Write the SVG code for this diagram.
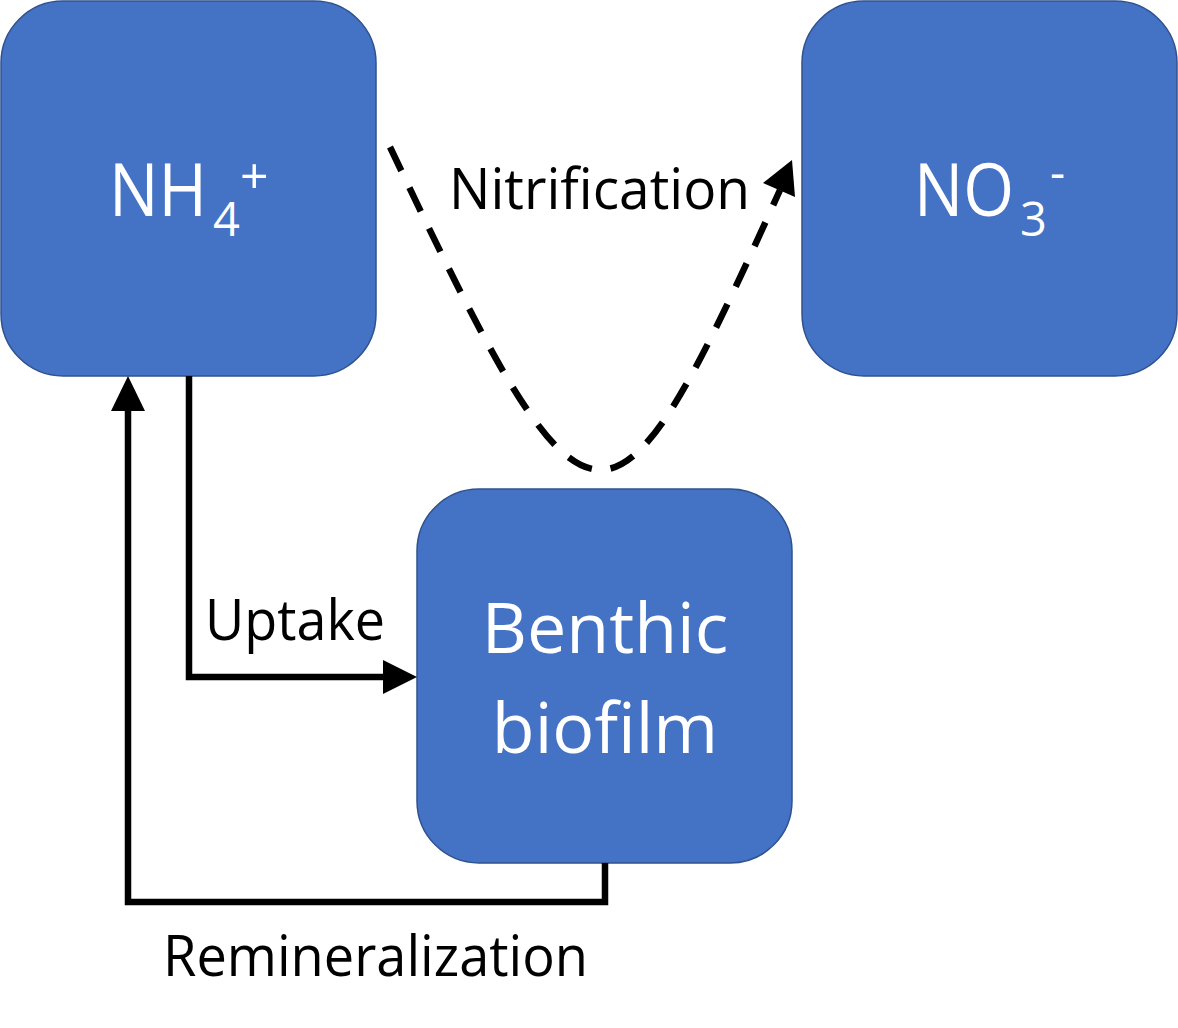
<svg xmlns="http://www.w3.org/2000/svg" width="1178" height="1028" viewBox="0 0 1178 1028">
<style>
.node{fill:#4472C4;stroke:#2F528F;stroke-width:1.5}
.nt{fill:#FFFFFF;font-family:"Open Sans","Noto Sans",sans-serif}
.lbl{fill:#000000;font-family:"Open Sans","Noto Sans",sans-serif;font-size:57px}
.ln{fill:none;stroke:#000000;stroke-width:6.5}
.dash{fill:none;stroke:#000000;stroke-width:6.5;stroke-dasharray:26 19}
.ah{fill:#000000}
</style>
<rect width="1178" height="1028" fill="#FFFFFF"/>
<g id="nh4">
<rect class="node" x="1" y="1" width="375" height="375" rx="62" ry="62"/>
<text class="nt" font-size="74"><tspan x="109" y="216" textLength="98" lengthAdjust="spacingAndGlyphs">NH</tspan><tspan x="213" y="236" font-size="47">4</tspan><tspan x="240" y="194" font-size="50">+</tspan></text>
</g>
<g id="no3">
<rect class="node" x="802" y="1" width="375" height="375" rx="62" ry="62"/>
<text class="nt" font-size="74"><tspan x="914" y="216" textLength="100" lengthAdjust="spacingAndGlyphs">NO</tspan><tspan x="1020" y="236" font-size="47">3</tspan><tspan x="1050" y="189" font-size="47">-</tspan></text>
</g>
<g id="biofilm">
<rect class="node" x="417" y="489" width="375" height="374" rx="62" ry="62"/>
<text class="nt" x="605" y="653" font-size="70" text-anchor="middle">Benthic</text>
<text class="nt" x="605" y="753" font-size="70" text-anchor="middle">biofilm</text>
</g>
<g id="connectors">
<path class="ln" d="M189,376 L189,677 L384,677"/>
<polygon class="ah" points="417,677 383,660 383,694"/>
<path class="ln" d="M605,863 L605,902 L128,902 L128,410"/>
<polygon class="ah" points="128,376 111,411 145,411"/>
<path class="dash" d="M390,147 C591,570 609,570 780,190"/>
<polygon class="ah" points="763,183 792,160 795,197"/>
</g>
<g id="labels">
<text class="lbl" x="449" y="209" textLength="301" lengthAdjust="spacingAndGlyphs">Nitrification</text>
<text class="lbl" x="205" y="640" textLength="180" lengthAdjust="spacingAndGlyphs">Uptake</text>
<text class="lbl" x="163" y="976" textLength="425" lengthAdjust="spacingAndGlyphs">Remineralization</text>
</g>
</svg>
